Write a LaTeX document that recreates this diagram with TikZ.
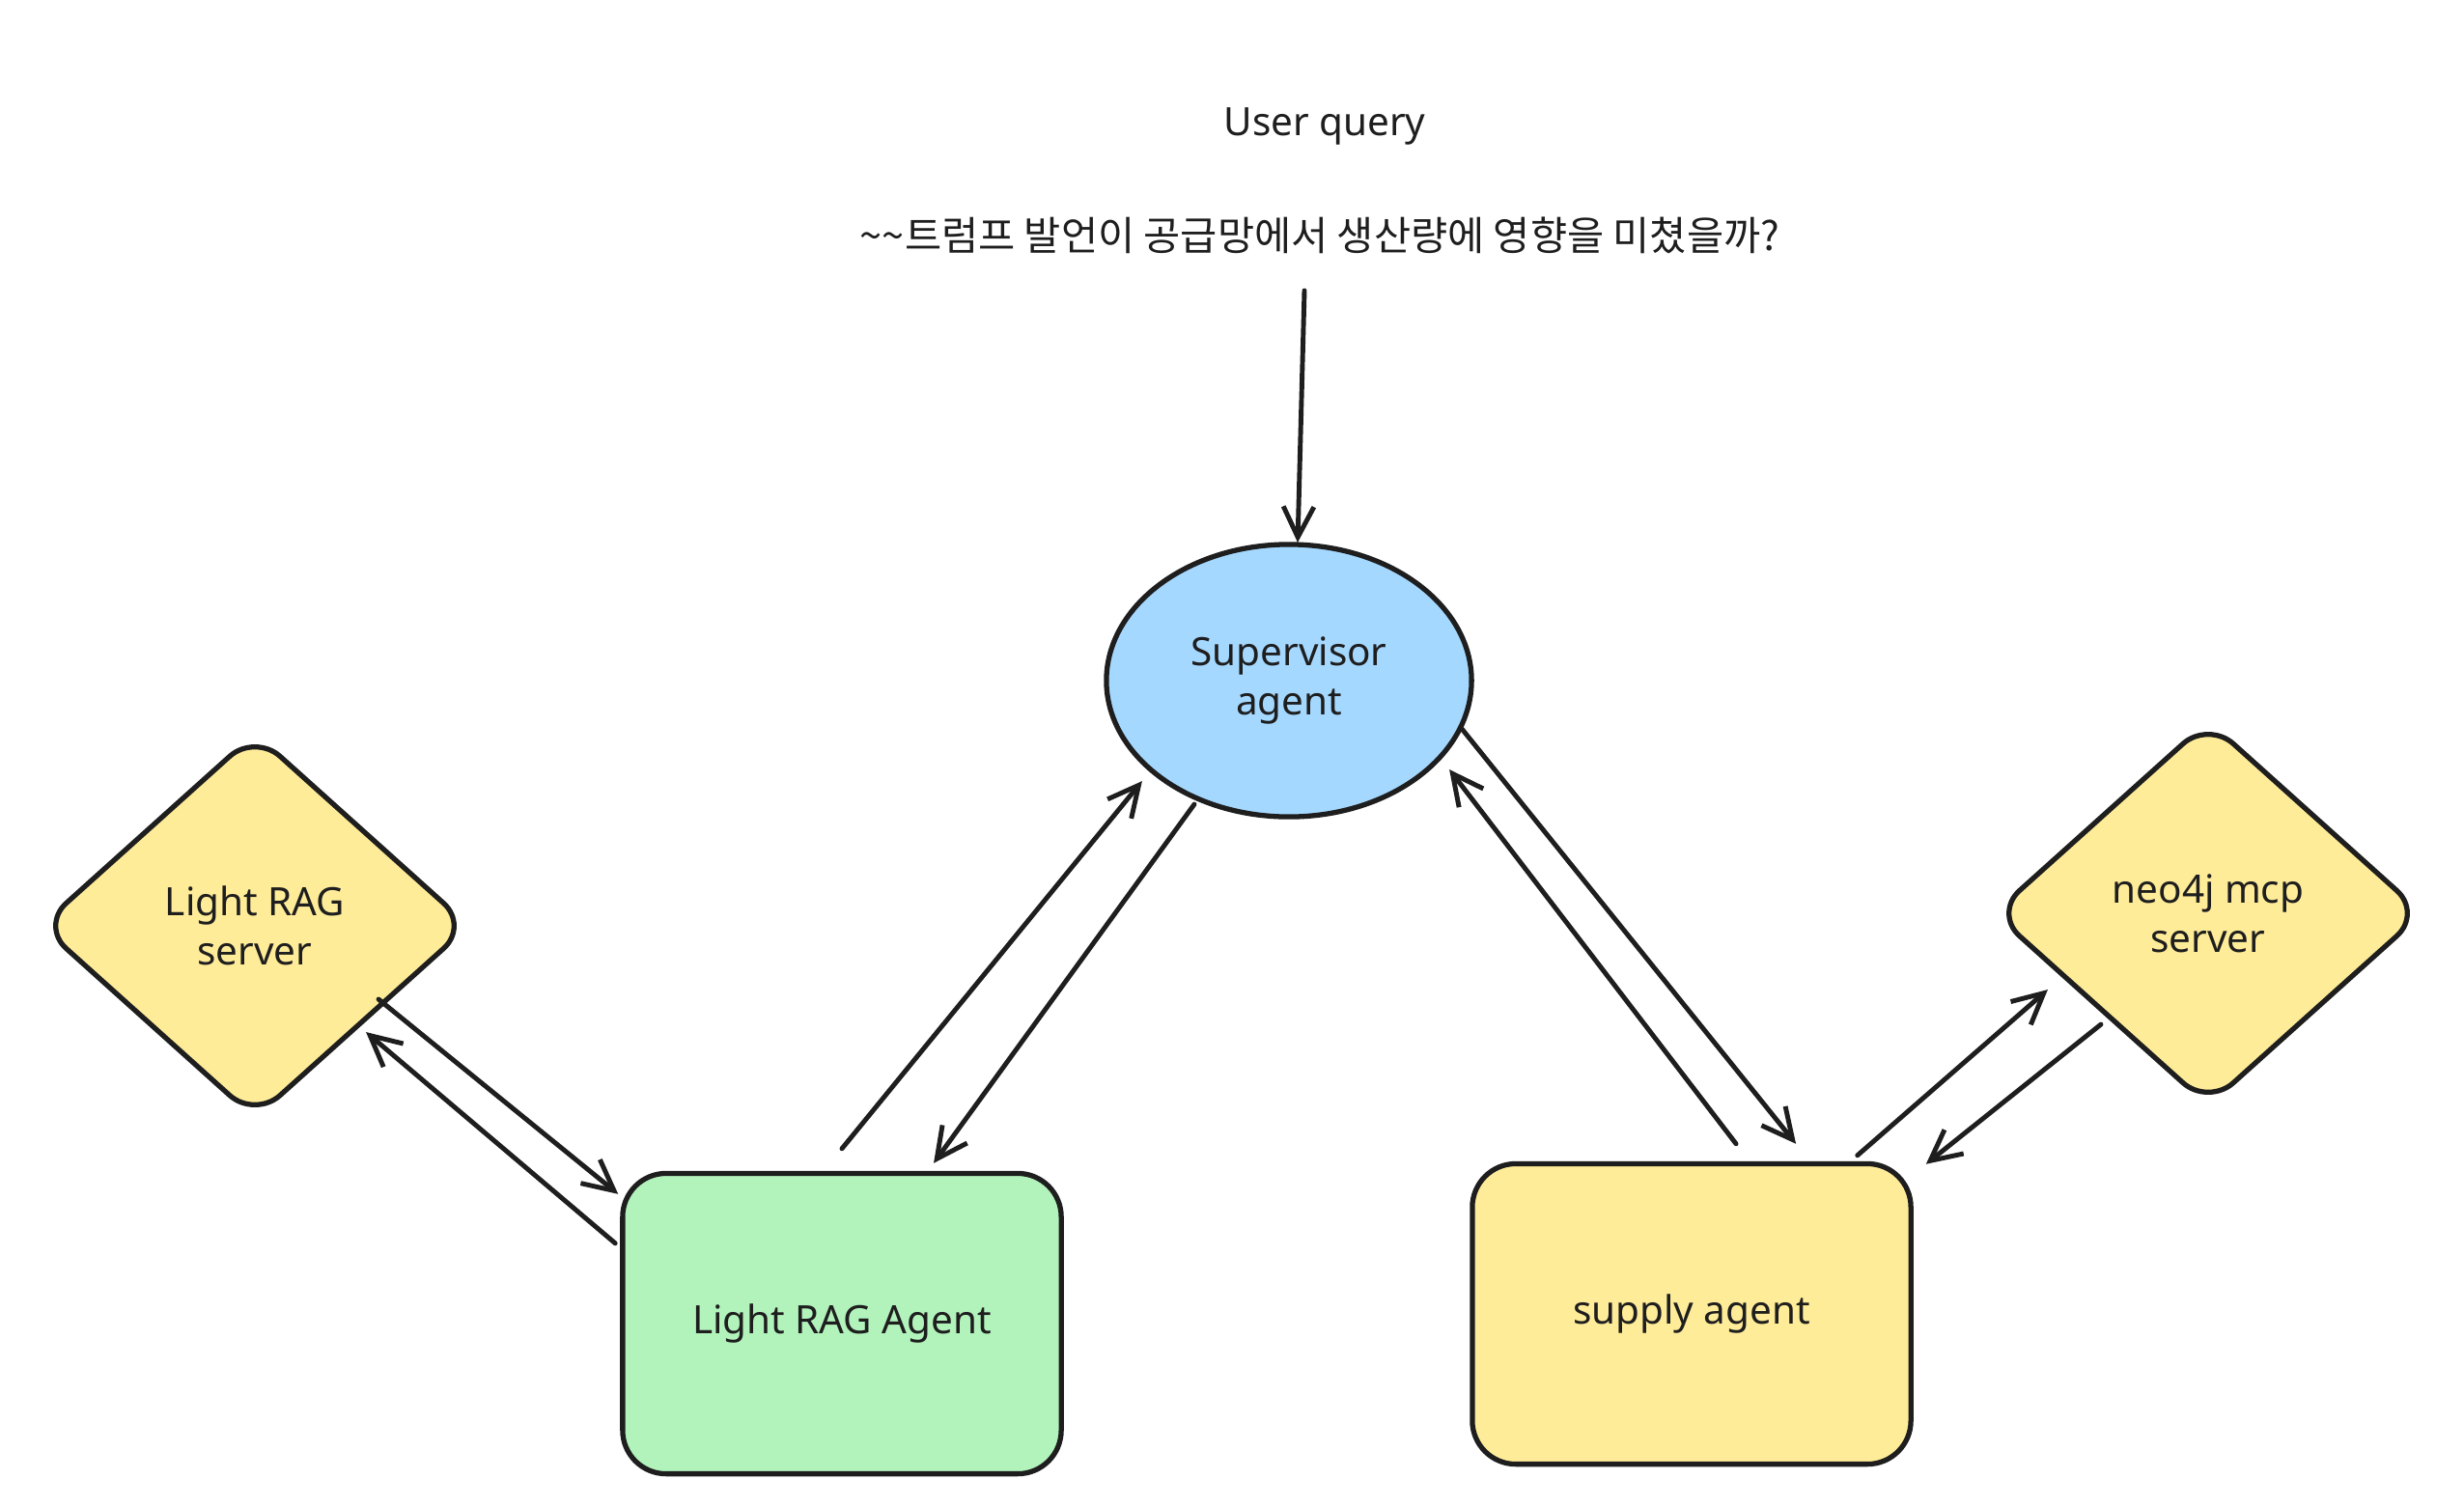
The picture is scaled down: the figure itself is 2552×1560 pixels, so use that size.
\documentclass[tikz,border=0pt]{standalone}
\usepackage{fontspec}
\setmainfont{Noto Sans}
\newfontfamily\kr{Noto Sans CJK KR}
\usetikzlibrary{shapes.geometric,arrows.meta,calc}
\definecolor{ink}{HTML}{1E1E1E}
\definecolor{supblue}{HTML}{A5D8FF}
\definecolor{agreen}{HTML}{B2F2BB}
\definecolor{ayellow}{HTML}{FFEC99}
\tikzset{
  txt/.style={font=\fontsize{11.5}{14.5}\selectfont, text=ink, align=center},
  boxnode/.style={txt, draw=ink, line width=1.5pt, rounded corners=0.45cm,
    minimum width=4.54cm, minimum height=3.11cm},
  diamnode/.style={txt, diamond, draw=ink, fill=ayellow, line width=1.5pt, rounded corners=0.35cm,
    minimum width=4.45cm, minimum height=4.0cm, inner sep=2pt},
  ellnode/.style={txt, ellipse, draw=ink, fill=supblue, line width=1.5pt,
    minimum width=3.78cm, minimum height=2.82cm},
  arr/.style={draw=ink, line width=1.4pt, line cap=round,
    -{Straight Barb[length=9pt,width=9pt,line width=1.4pt]}}
}
\begin{document}
\begin{tikzpicture}[x=0.01cm,y=-0.01cm]
\useasboundingbox[fill=white] (0,0) rectangle (2552,1560);

\node[txt] (uq) at (1372,131) {User query};
\node[txt, font=\kr\fontsize{11.8}{14}\selectfont] (kq) at (1367,244) {\textasciitilde\textasciitilde 트럼프 발언이 공급망에서 생산량에 영향을 미쳤을까?};

\node[ellnode] (sup) at (1335,705) {Supervisor\\agent};
\node[diamnode] (srv) at (264,959) {Light RAG\\server};
\node[diamnode] (neo) at (2287,946) {neo4j mcp\\server};
\node[boxnode, fill=agreen] (lra) at (872,1371) {Light RAG Agent};
\node[boxnode, fill=ayellow] (sa) at (1752,1361) {supply agent};

% query -> supervisor
\draw[arr] ([xshift=-0.16cm,yshift=-0.57cm]kq.center) -- ([xshift=0.09cm,yshift=1.43cm]sup.center);

% Light RAG Agent <-> supervisor
\draw[arr] ([yshift=0.23cm]lra.north) -- ([xshift=-1.52cm,yshift=-1.04cm]sup.center);
\draw[arr] ([xshift=-0.98cm,yshift=-1.28cm]sup.center) -- ([xshift=0.95cm,yshift=0.08cm]lra.north);

% supervisor <-> supply agent
\draw[arr] ([xshift=1.79cm,yshift=-0.50cm]sup.center) -- ([xshift=1.08cm,yshift=0.18cm]sa.north);
\draw[arr] ([xshift=0.46cm,yshift=0.18cm]sa.north) -- ([xshift=1.66cm,yshift=-0.92cm]sup.center);

% Light RAG Agent <-> Light RAG server
\draw[arr] ([xshift=-0.05cm,yshift=-0.75cm]lra.north west) -- ([xshift=1.15cm,yshift=-1.10cm]srv.center);
\draw[arr] ([xshift=1.28cm,yshift=-0.76cm]srv.center) -- ([xshift=-0.02cm,yshift=-0.24cm]lra.north west);

% supply agent <-> neo4j
\draw[arr] ([xshift=-0.58cm,yshift=0.06cm]sa.north east) -- ([xshift=-1.66cm,yshift=-0.79cm]neo.center);
\draw[arr] ([xshift=-1.11cm,yshift=-1.15cm]neo.center) -- ([xshift=0.13cm,yshift=-0.03cm]sa.north east);
\end{tikzpicture}
\end{document}
